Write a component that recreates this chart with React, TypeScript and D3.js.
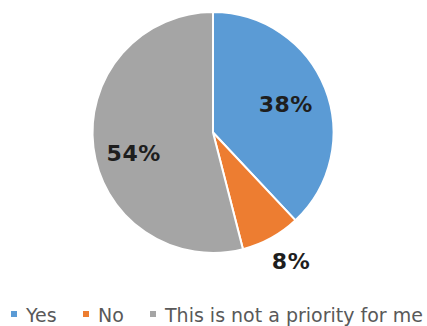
import React from "react";
import * as d3 from "d3";

const categories = ["Yes", "No", "This is not a priority for me"];
const values = [38, 8, 54];
const colors = ["#5B9BD5", "#ED7D31", "#A5A5A5"];

const W = 427;
const H = 326;
const CX = 213;
const CY = 132.5;
const R = 120.5;

// label placement per slice: radius factor and angle nudge (degrees)
const labelRadius = [0.65, 1.25, 0.68];
const labelNudge = [0, -2.4, -7.3];

export default function App() {
  const pie = d3.pie<number>().sort(null).value((d) => d);
  const arcs = pie(values);
  const arc = d3.arc<d3.PieArcDatum<number>>().innerRadius(0).outerRadius(R);

  // legend layout
  const legendFont = 19;
  const legendX = [11, 83, 150];

  return (
    <svg
      width={W}
      height={H}
      style={{ position: "absolute", left: 0, top: 0, background: "#fff" }}
    >
      <g transform={`translate(${CX},${CY})`}>
        {arcs.map((a, i) => (
          <path
            key={i}
            d={arc(a) || ""}
            fill={colors[i]}
            stroke="#fff"
            strokeWidth={2}
            strokeLinejoin="round"
          />
        ))}
        {arcs.map((a, i) => {
          const mid = (a.startAngle + a.endAngle) / 2 + (labelNudge[i] * Math.PI) / 180;
          const r = R * labelRadius[i];
          const x = r * Math.sin(mid);
          const y = -r * Math.cos(mid);
          return (
            <text
              key={i}
              x={x}
              y={y}
              dy="0.36em"
              textAnchor="middle"
              fontFamily="DejaVu Sans, Verdana, sans-serif"
              fontWeight="bold"
              fontSize={22}
              letterSpacing={0.5}
              fill="#1e1e1e"
            >
              {`${values[i]}%`}
            </text>
          );
        })}
      </g>
      <g>
        {categories.map((c, i) => (
          <g key={c} transform={`translate(${legendX[i]},0)`}>
            <rect x={0} y={311} width={6} height={6} fill={colors[i]} />
            <text
              x={15}
              y={322}
              fontFamily="DejaVu Sans, Verdana, sans-serif"
              fontSize={legendFont}
              fill="#595959"
            >
              {c}
            </text>
          </g>
        ))}
      </g>
    </svg>
  );
}
